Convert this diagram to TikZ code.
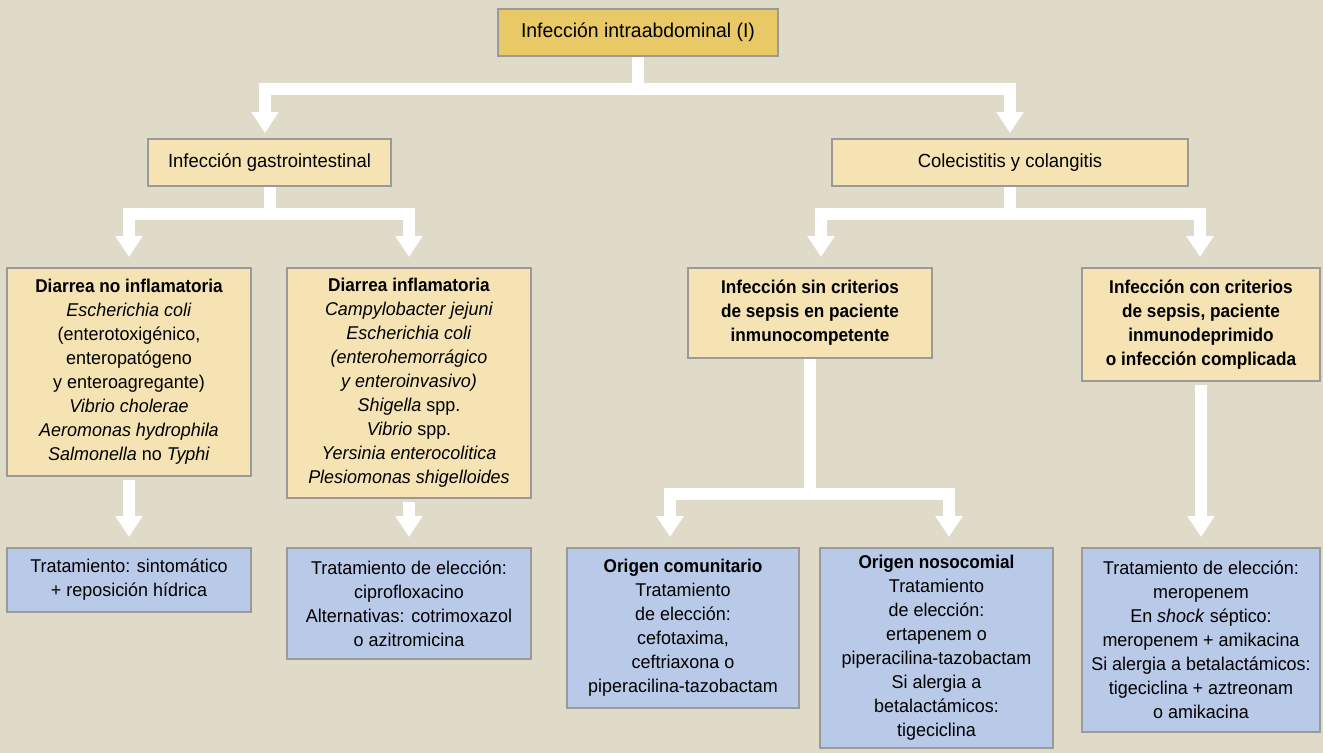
\documentclass[tikz,border=0pt]{standalone}
\usepackage{fontspec}
\setmainfont{Liberation Sans}[FakeStretch=0.97]
\newfontfamily\bcond{Liberation Sans}[FakeStretch=0.93]
\newcommand{\bhead}[1]{{\bcond\bfseries #1}}
\usetikzlibrary{arrows.meta}
\definecolor{bgc}{HTML}{E0DBC8}
\definecolor{titlec}{HTML}{E9C965}
\definecolor{yelc}{HTML}{F5E3B3}
\definecolor{bluec}{HTML}{B9C9E8}
\definecolor{bordc}{HTML}{9A9A9A}
\tikzset{
  box/.style={draw=bordc, line width=2pt, align=center, inner sep=0pt,
    font=\fontsize{18.5}{24}\selectfont, text=black},
  ybox/.style={box, fill=yelc},
  bbox/.style={box, fill=bluec},
  wline/.style={draw=white, line width=12pt, line join=miter},
  warr/.style={wline, -{Triangle[length=21pt 0 0, width=26pt 0 0]}},
  wdbl/.style={wline, {Triangle[length=21pt 0 0, width=26pt 0 0]}-{Triangle[length=21pt 0 0, width=26pt 0 0]}}
}
\begin{document}
\begin{tikzpicture}[x=1pt,y=-1pt]
\useasboundingbox (0,0) rectangle (1323,753);
\fill[bgc] (0,0) rectangle (1323,753);

% level 1
\node[box, fill=titlec, minimum width=280pt, minimum height=47pt, font=\fontsize{20}{24}\selectfont] (top) at (638,32.5) {Infección intraabdominal (I)};
% level 2
\node[ybox, minimum width=243pt, minimum height=47pt, font=\fontsize{19}{24}\selectfont] (gastro) at (269.5,162.5) {Infección gastrointestinal};
\node[ybox, minimum width=356pt, minimum height=47pt, font=\fontsize{19}{24}\selectfont] (cole) at (1010,162.5) {Colecistitis y colangitis};
% level 3
\node[ybox, minimum width=244pt, minimum height=208pt] (A) at (129,372) {\bhead{Diarrea no inflamatoria}\\ \textit{Escherichia coli}\\ (enterotoxigénico,\\ enteropatógeno\\ y enteroagregante)\\ \textit{Vibrio cholerae}\\ \textit{Aeromonas hydrophila}\\ \textit{Salmonella} no \textit{Typhi}};
\node[ybox, minimum width=244pt, minimum height=230pt] (B) at (409,383) {\bhead{Diarrea inflamatoria}\\ \textit{Campylobacter jejuni}\\ \textit{Escherichia coli}\\ \textit{(enterohemorrágico}\\ \textit{y enteroinvasivo)}\\ \textit{Shigella} spp.\\ \textit{Vibrio} spp.\\ \textit{Yersinia enterocolitica}\\ \textit{Plesiomonas shigelloides}};
\node[ybox, minimum width=244pt, minimum height=90pt] (C) at (810,313) {\bhead{Infección sin criterios}\\ \bhead{de sepsis en paciente}\\ \bhead{inmunocompetente}};
\node[ybox, minimum width=238pt, minimum height=113pt] (D) at (1201,324.5) {\bhead{Infección con criterios}\\ \bhead{de sepsis, paciente}\\ \bhead{inmunodeprimido}\\ \bhead{o infección complicada}};
% level 4
\node[bbox, minimum width=244pt, minimum height=64pt] (E) at (129,580) {Tratamiento: sintomático\\ + reposición hídrica};
\node[bbox, minimum width=244pt, minimum height=111pt] (F) at (409,603.5) {Tratamiento de elección:\\ ciprofloxacino\\ Alternativas: cotrimoxazol\\ o azitromicina};
\node[bbox, minimum width=232pt, minimum height=160pt] (G) at (683,628) {\bhead{Origen comunitario}\\ Tratamiento\\ de elección:\\ cefotaxima,\\ ceftriaxona o\\ piperacilina-tazobactam};
\node[bbox, minimum width=233pt, minimum height=200pt] (H) at (936.5,648) {\bhead{Origen nosocomial}\\ Tratamiento\\ de elección:\\ ertapenem o\\ piperacilina-tazobactam\\ Si alergia a\\ betalactámicos:\\ tigeciclina};
\node[bbox, minimum width=238pt, minimum height=184pt] (I) at (1201,640) {Tratamiento de elección:\\ meropenem\\ En \textit{shock} séptico:\\ meropenem + amikacina\\ Si alergia a betalactámicos:\\ tigeciclina + aztreonam\\ o amikacina};

% connectors level 1
\coordinate (t1L) at (265,89);
\coordinate (t1R) at (1010,89);
\draw[wline] (top.south) -- ([yshift=-6pt]top.south |- t1L);
\draw[wdbl, shorten <=5pt, shorten >=5pt] (t1L |- gastro.north) -- (t1L) -- (t1R) -- (t1R |- cole.north);

% connectors level 2 left
\coordinate (g2L) at (129,214);
\coordinate (g2R) at (409,214);
\draw[wline] (gastro.south) -- ([yshift=-6pt]gastro.south |- g2L);
\draw[wdbl, shorten <=10pt, shorten >=10pt] (g2L |- A.north) -- (g2L) -- (g2R) -- (g2R |- B.north);

% connectors level 2 right
\coordinate (c2L) at (821,214);
\coordinate (c2R) at (1200,214);
\draw[wline] (cole.south) -- ([yshift=-6pt]cole.south |- c2L);
\draw[wdbl, shorten <=10pt, shorten >=10pt] (c2L |- C.north) -- (c2L) -- (c2R) -- (c2R |- D.north);

% connectors level 3
\draw[warr, shorten <=3pt, shorten >=10pt] (A.south) -- (E.north);
\draw[warr, shorten <=3pt, shorten >=10pt] (B.south) -- (F.north);
\draw[warr, shorten <=3pt, shorten >=10pt] (D.south) -- (I.north);
\coordinate (s3L) at (670,494);
\coordinate (s3R) at (949,494);
\draw[wline] (C.south) -- ([yshift=-6pt]C.south |- s3L);
\draw[wdbl, shorten <=10pt, shorten >=10pt] (s3L |- G.north) -- (s3L) -- (s3R) -- (s3R |- H.north);
\end{tikzpicture}
\end{document}
